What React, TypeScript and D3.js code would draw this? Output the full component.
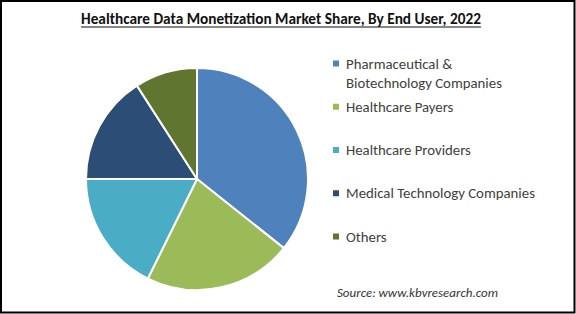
import React from "react";
import * as d3 from "d3";

const categories = [
  "Pharmaceutical & Biotechnology Companies",
  "Healthcare Payers",
  "Healthcare Providers",
  "Medical Technology Companies",
  "Others",
];
const values = [35.7, 21.6, 17.7, 15.9, 9.1];
const colors = ["#4F81BD", "#9BBB59", "#4BACC6", "#2C4D75", "#5F7530"];
const legendLines = [
  ["Pharmaceutical &", "Biotechnology Companies"],
  ["Healthcare Payers"],
  ["Healthcare Providers"],
  ["Medical Technology Companies"],
  ["Others"],
];
const title = "Healthcare Data Monetization Market Share, By End User, 2022";
const source = "Source:  www.kbvresearch.com";

export default function App() {
  const W = 576, H = 314;
  const cx = 197, cy = 179, r = 111;
  const pie = d3.pie<number>().sort(null).value((d) => d);
  const arcs = pie(values);
  const arcGen = d3.arc<d3.PieArcDatum<number>>().innerRadius(0).outerRadius(r);
  const legendY = d3.scaleLinear().domain([0, 4]).range([63.5, 236.5]);
  const font = "Calibri, Carlito, 'Open Sans', 'Liberation Sans', sans-serif";
  return (
    <svg width={W} height={H} style={{ position: "absolute", left: 0, top: 0, background: "#fff" }}>
      <rect x={1} y={1} width={W - 2.5} height={H - 2.5} fill="#fff" stroke="#000" strokeWidth={2} />
      <text x={81} y={24} fontFamily={font} fontWeight="bold" fontSize={15.5} fill="#111"
        textLength={400} lengthAdjust="spacingAndGlyphs">{title}</text>
      <line x1={81} x2={481} y1={27} y2={27} stroke="#111" strokeWidth={1.2} />
      <g transform={`translate(${cx},${cy})`}>
        {arcs.map((a, i) => (
          <path key={categories[i]} d={arcGen(a) || ""} fill={colors[i]} stroke="#fff" strokeWidth={2} strokeLinejoin="round" />
        ))}
      </g>
      {legendLines.map((lines, i) => {
        const y = legendY(i);
        return (
          <g key={categories[i]}>
            <rect x={333} y={y - 3} width={6} height={6} fill={colors[i]} />
            {lines.map((t, j) => (
              <text key={j} x={346} y={y + 5 + j * 19} fontFamily={font} fontSize={14.8} fill="#404040">{t}</text>
            ))}
          </g>
        );
      })}
      <text x={337} y={297} fontFamily={font} fontStyle="italic" fontSize={11.5} fill="#333"
        textLength={161} lengthAdjust="spacingAndGlyphs">{source}</text>
    </svg>
  );
}
